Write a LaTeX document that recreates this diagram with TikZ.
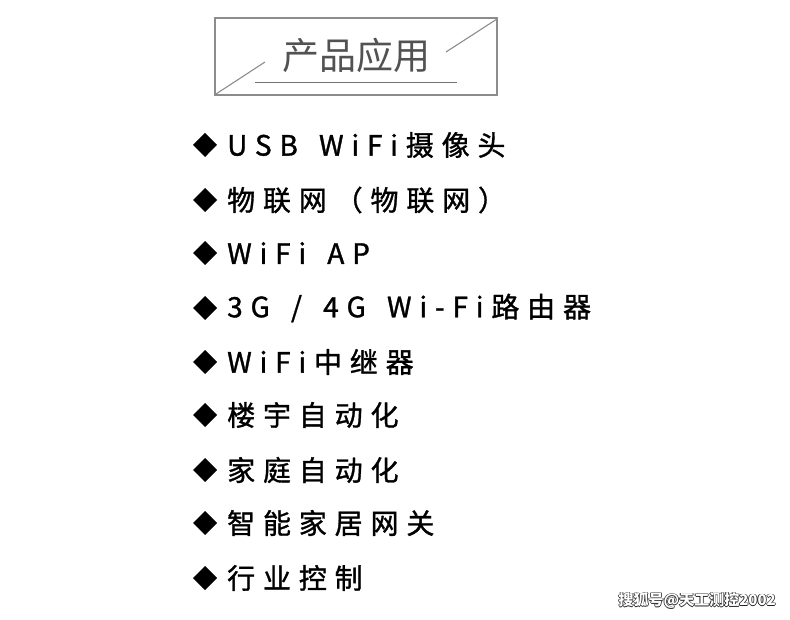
\documentclass[tikz,border=0pt]{standalone}
\usepackage{fontspec}
\setmainfont{Noto Sans CJK SC}
\newfontfamily\cjk[LetterSpace=28,WordSpace=1.5,FakeBold=1.2]{Noto Sans CJK SC}
\newfontfamily\wm{Noto Sans CJK SC}
\begin{document}
\begin{tikzpicture}[x=1pt,y=-1pt,
  item/.style={anchor=west,inner sep=0,font=\cjk\fontsize{28}{30}\selectfont},
  frame/.style={draw=black!45,line width=1.1pt}]
\useasboundingbox (0,0) rectangle (790,620);
\draw[frame] (215,18) rectangle (497,95);
\coordinate (d1) at (216,94); \coordinate (d2) at (265,62);
\coordinate (d3) at (446,52); \coordinate (d4) at (497,19);
\draw[frame] (d1)--(d2) (d3)--(d4);
\coordinate (u1) at (255,82); \coordinate (u2) at (457,82);
\draw[draw=black!55,line width=0.9pt] (u1)--(u2);
\node[inner sep=0,text=black!68,font=\wm\fontsize{37}{40}\selectfont] (title) at (356,55) {产品应用};
\foreach \y/\t [count=\i] in {145/{USB WiFi摄像头},200/{物联网（物联网）},253/{WiFi AP},308/{3G / 4G Wi-Fi路由器},362/{WiFi中继器},415/{楼宇自动化},470/{家庭自动化},523/{智能家居网关},578/{行业控制}}{
  \fill (205,\y-12)--(217,\y)--(205,\y+12)--(193,\y)--cycle;
  \node[item] (t\i) at (227,\y) {\t};
}
\foreach \dx/\dy in {-0.8/0,0.8/0,0/-0.8,0/0.8}
  \node[anchor=east,inner sep=0,font=\wm\bfseries\fontsize{15}{17}\selectfont,text=black!85] at (776+\dx,601+\dy) {搜狐号@天工测控2002};
\node[anchor=east,inner sep=0,font=\wm\bfseries\fontsize{15}{17}\selectfont,text=white] (wm) at (776,601) {搜狐号@天工测控2002};
\end{tikzpicture}
\end{document}
